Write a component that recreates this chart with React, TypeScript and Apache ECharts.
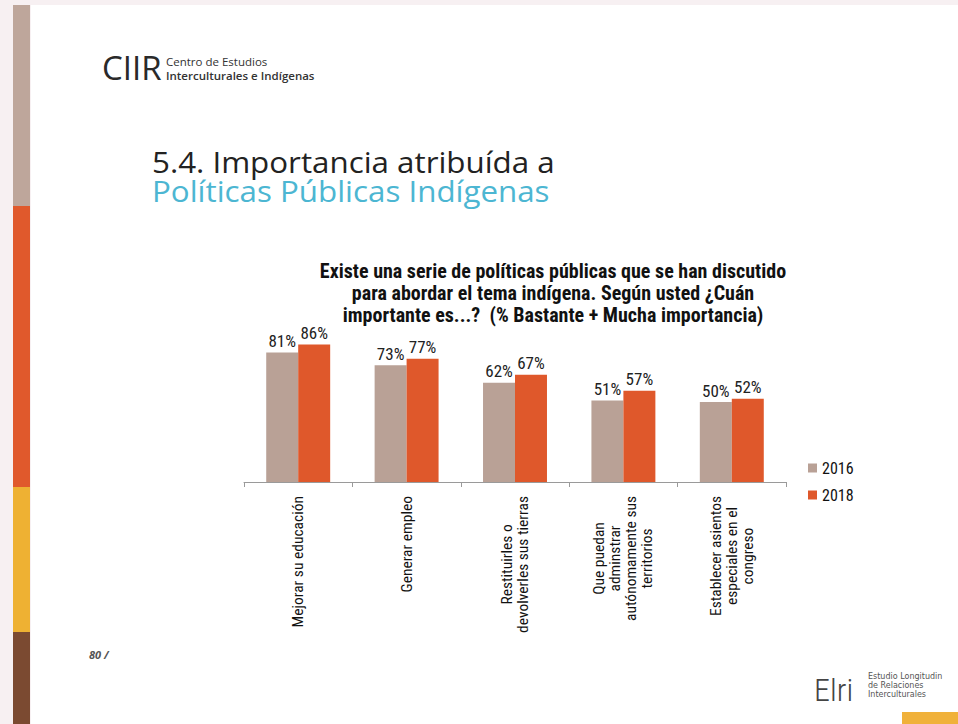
import React, { useEffect, useRef } from "react";
import * as echarts from "echarts";

const categories = [
  "Mejorar su educación",
  "Generar empleo",
  "Restituirles o\ndevolverles sus tierras",
  "Que puedan\nadminstrar\nautónomamente sus\nterritorios",
  "Establecer asientos\nespeciales en el\ncongreso",
];
const seriesNames = ["2016", "2018"];
const values2016 = [81, 73, 62, 51, 50];
const values2018 = [86, 77, 67, 57, 52];

const chartTitle =
  "Existe una serie de políticas públicas que se han discutido\npara abordar el tema indígena. Según usted ¿Cuán\nimportante es...?  (% Bastante + Mucha importancia)";

const NARROW = "'Liberation Sans Narrow', 'Arial Narrow', 'Roboto Condensed', sans-serif";
const HUMAN = "'Open Sans', 'Noto Sans', sans-serif";
const WIDE = "'DejaVu Sans', Verdana, sans-serif";

export default function App() {
  const ref = useRef<HTMLDivElement>(null);
  useEffect(() => {
    if (!ref.current) return;
    const chart = echarts.init(ref.current, undefined, { renderer: "svg" });
    const barLabel = {
      show: true,
      position: "top",
      distance: 3,
      formatter: "{c}%",
      fontFamily: NARROW,
      fontSize: 17,
      color: "#222222",
    };
    const option: any = {
      animation: false,
      backgroundColor: "#ffffff",
      title: {
        text: chartTitle,
        left: 548,
        top: 255,
        textAlign: "center",
        textStyle: {
          fontFamily: NARROW,
          fontSize: 20,
          fontWeight: "bold",
          lineHeight: 22,
          color: "#111111",
        },
      },
      legend: {
        orient: "vertical",
        left: 803,
        top: 455,
        itemWidth: 9,
        itemHeight: 9,
        itemGap: 11,
        icon: "rect",
        textStyle: { fontFamily: NARROW, fontSize: 16, color: "#111111" },
        data: seriesNames,
      },
      grid: { left: 244, right: 172, top: 322, bottom: 242, containLabel: false },
      xAxis: {
        type: "category",
        data: categories,
        boundaryGap: true,
        axisLine: { lineStyle: { color: "#9a9a9a", width: 1 } },
        axisTick: { show: true, length: 5, interval: 0, lineStyle: { color: "#9a9a9a" } },
        axisLabel: {
          interval: 0,
          rotate: 90,
          margin: 14,
          formatter: (v: string) =>
            v
              .split("\n")
              .map((l) => `{a|${l}}`)
              .join("\n"),
          rich: {
            a: {
              align: "center",
              fontFamily: NARROW,
              fontSize: 15.5,
              lineHeight: 16,
              color: "#111111",
            },
          },
        },
      },
      yAxis: {
        type: "value",
        min: 0,
        max: 100,
        show: false,
        splitLine: { show: false },
      },
      series: [
        {
          name: seriesNames[0],
          type: "bar",
          data: values2016,
          barGap: "0%",
          barCategoryGap: "41%",
          itemStyle: { color: "#b9a196" },
          label: barLabel,
        },
        {
          name: seriesNames[1],
          type: "bar",
          data: values2018,
          barGap: "0%",
          barCategoryGap: "41%",
          itemStyle: { color: "#df582b" },
          label: barLabel,
        },
      ],
      graphic: [
        { type: "rect", z: -10, silent: true, shape: { x: 0, y: 0, width: 958, height: 724 }, style: { fill: "#f7f0f2" } },
        { type: "rect", z: -9, silent: true, shape: { x: 31, y: 5, width: 927, height: 719 }, style: { fill: "#ffffff" } },
        { type: "rect", z: -8, silent: true, shape: { x: 13, y: 5, width: 17, height: 201 }, style: { fill: "#bea69b" } },
        { type: "rect", z: -8, silent: true, shape: { x: 13, y: 206, width: 17, height: 281 }, style: { fill: "#e0592c" } },
        { type: "rect", z: -8, silent: true, shape: { x: 13, y: 487, width: 17, height: 145 }, style: { fill: "#eeb133" } },
        { type: "rect", z: -8, silent: true, shape: { x: 13, y: 632, width: 17, height: 92 }, style: { fill: "#7b4a31" } },
        // CIIR logo
        { type: "text", left: 102, top: 51, style: { text: "CIIR", font: `500 33px ${HUMAN}`, fill: "#2a2a2a" } },
        { type: "text", left: 166, top: 55.5, style: { text: "Centro de Estudios", font: `11.5px ${HUMAN}`, lineHeight: 11, fill: "#333333" } },
        { type: "text", left: 166, top: 69.5, style: { text: "Interculturales e Indígenas", font: `600 11.5px ${HUMAN}`, lineHeight: 11, fill: "#333333" } },
        // main heading
        { type: "text", x: 152, y: 147, scaleX: 1.08, style: { text: "5.4. Importancia atribuída a", font: `29px ${HUMAN}`, verticalAlign: "top", fill: "#222222" } },
        { type: "text", x: 152, y: 176, scaleX: 1.08, style: { text: "Políticas Públicas Indígenas", font: `29px ${HUMAN}`, verticalAlign: "top", fill: "#4cb6d2" } },
        // page number
        { type: "text", left: 89, top: 649, style: { text: "80 /", font: `italic bold 11px ${HUMAN}`, fill: "#555555" } },
        // Elri logo
        { type: "text", left: 814, top: 674, style: { text: "Elri", font: `300 32px ${NARROW}`, fill: "#444444" } },
        { type: "text", left: 868, top: 672, style: { text: "Estudio Longitudin", font: `8px ${WIDE}`, lineHeight: 8, fill: "#555555" } },
        { type: "text", left: 868, top: 681, style: { text: "de Relaciones", font: `8px ${WIDE}`, lineHeight: 8, fill: "#555555" } },
        { type: "text", left: 868, top: 690, style: { text: "Interculturales", font: `8px ${WIDE}`, lineHeight: 8, fill: "#555555" } },
        { type: "rect", silent: true, shape: { x: 902, y: 712, width: 56, height: 12 }, style: { fill: "#f0b13a" } },
      ],
    };
    chart.setOption(option);
    return () => chart.dispose();
  }, []);
  return (
    <div
      ref={ref}
      style={{ position: "absolute", left: 0, top: 0, width: 958, height: 724 }}
    />
  );
}
